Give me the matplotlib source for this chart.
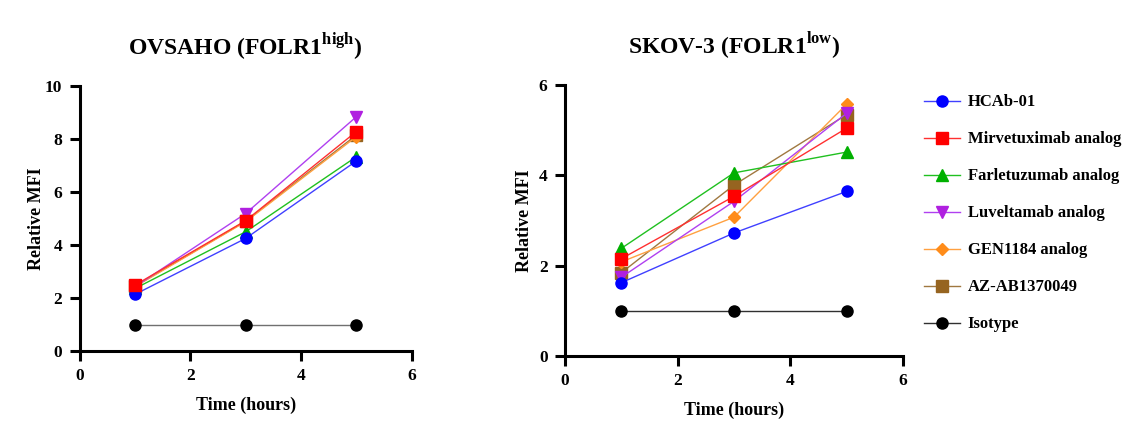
import matplotlib
matplotlib.use('Agg')
import matplotlib.pyplot as plt

plt.rcParams['font.family'] = ['Liberation Serif', 'DejaVu Serif']
plt.rcParams['font.weight'] = 'bold'
plt.rcParams['mathtext.fontset'] = 'custom'
plt.rcParams['mathtext.rm'] = 'Liberation Serif:bold'
plt.rcParams['mathtext.bf'] = 'Liberation Serif:bold'

time_h = [1, 3, 5]
names = ['HCAb-01', 'Mirvetuximab analog', 'Farletuzumab analog',
         'Luveltamab analog', 'GEN1184 analog', 'AZ-AB1370049', 'Isotype']
colors = ['#0000ff', '#ff0000', '#00b000', '#b020e0', '#ff8c1a', '#966420', '#000000']
line_colors = ['#4040ff', '#ff3030', '#20c020', '#b040f0', '#ffa040', '#a07840', '#707070']
markers = ['o', 's', '^', 'v', 'D', 's', 'o']
msizes = [8, 8, 8, 8, 6, 8, 8]

# OVSAHO values (relative MFI)
ovsaho = [
    [2.14, 4.25, 7.17],
    [2.49, 4.92, 8.28],
    [2.36, 4.50, 7.33],
    [2.43, 5.19, 8.84],
    [2.43, 4.88, 8.09],
    [2.45, 4.90, 8.15],
    [1.0, 1.0, 1.0],
]
# SKOV-3 values
skov3 = [
    [1.62, 2.72, 3.64],
    [2.15, 3.53, 5.04],
    [2.38, 4.05, 4.51],
    [1.74, 3.42, 5.37],
    [2.08, 3.07, 5.57],
    [1.84, 3.78, 5.34],
    [1.0, 1.0, 1.0],
]

fig = plt.figure(figsize=(11.4, 4.46), dpi=100)
ax1 = fig.add_axes([0.070, 0.213, 0.291, 0.594])
ax2 = fig.add_axes([0.4956, 0.202, 0.2965, 0.608])


def draw_panel(ax, data, ymax, yticks, title, ypad):
    # isotype goes first so it sits underneath
    order = [6, 5, 4, 3, 2, 0, 1]
    for i in order:
        lc = line_colors[i]
        if i == 6 and ax is ax2:
            lc = '#303030'
        ax.plot(time_h, data[i], color=lc, lw=1.0, marker=markers[i],
                markersize=msizes[i], markerfacecolor=colors[i],
                markeredgecolor=colors[i], label=names[i], zorder=3)
    ax.set_xlim(0, 6)
    ax.set_ylim(0, ymax)
    ax.set_xticks([0, 2, 4, 6])
    ax.set_yticks(yticks)
    for s in ['top', 'right']:
        ax.spines[s].set_visible(False)
    for s in ['left', 'bottom']:
        ax.spines[s].set_linewidth(2.2)
    ax.tick_params(width=2.2, length=7.5, pad=5, labelsize=12.5, direction='out')
    for lab in ax.get_xticklabels() + ax.get_yticklabels():
        lab.set_fontweight('bold')
    ax.set_xlabel('Time (hours)', fontsize=13, fontweight='bold', labelpad=9)
    ax.set_ylabel('Relative MFI', fontsize=13, fontweight='bold', labelpad=ypad)
    ax.set_title(title, fontsize=17, fontweight='bold', pad=22)


draw_panel(ax1, ovsaho, 10, [0, 2, 4, 6, 8, 10], r'OVSAHO (FOLR1$^{\mathbf{high}}$)', 0)
draw_panel(ax2, skov3, 6, [0, 2, 4, 6], r'SKOV-3 (FOLR1$^{\mathbf{low}}$)', 4)

handles, labels = ax2.get_legend_handles_labels()
lookup = dict(zip(labels, handles))
leg = fig.legend([lookup[n] for n in names], names, loc='upper left',
                 bbox_to_anchor=(0.797, 0.822), frameon=False,
                 prop={'family': 'Liberation Serif', 'weight': 'bold', 'size': 12},
                 labelspacing=1.26, handlelength=2.2, handletextpad=0.45)

fig.savefig('out.png', dpi=100)
